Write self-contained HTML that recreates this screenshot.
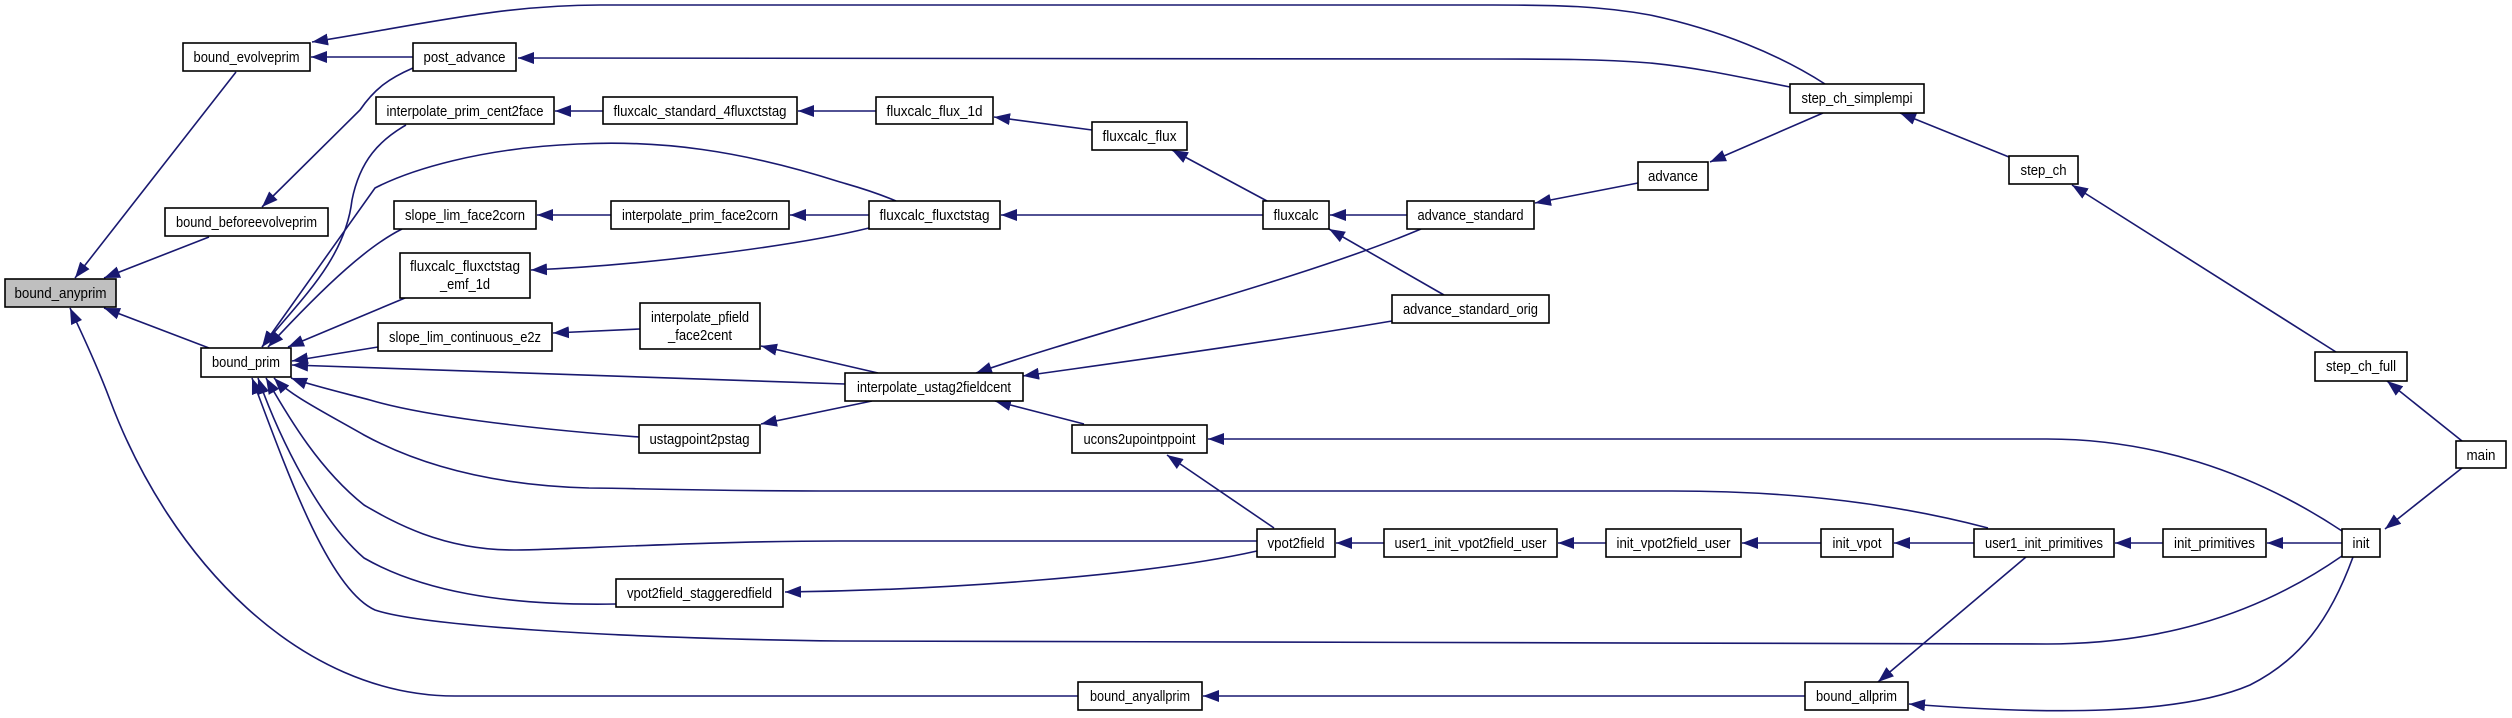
<!DOCTYPE html>
<html><head><meta charset="utf-8"><style>
html,body{margin:0;padding:0;background:#fff;}
svg{display:block;}
text{font-family:"Liberation Sans",sans-serif;font-size:15px;fill:#000;text-anchor:middle;}
.e{fill:none;stroke:#191970;stroke-width:1.6;marker-end:url(#a);}
rect{fill:#fff;stroke:#000;stroke-width:1.6;}
</style></head><body>
<svg width="2512" height="718" viewBox="0 0 2512 718" xmlns="http://www.w3.org/2000/svg">
<defs><marker id="a" markerUnits="userSpaceOnUse" markerWidth="17" markerHeight="12" refX="16" refY="6" orient="auto"><path d="M0,0 L16,6 L0,12 z" fill="#191970"/></marker></defs>
<!-- edges -->
<path class="e" d="M1825,84 C1780,55 1720,30 1650,15 C1600,6 1560,5 1493,5 L600,5 C500,5 420,25 312,42"/>
<path class="e" d="M413,57 L311,57"/>
<path class="e" d="M1790,87 C1740,77 1700,68 1650,63 C1600,59 1550,59 1493,59 L518,58"/>
<path class="e" d="M413,68 C390,78 375,88 360,110 L262,207"/>
<path class="e" d="M236,72 L75,278"/>
<path class="e" d="M209,237 L104,278"/>
<path class="e" d="M209,348 L104,308"/>
<path class="e" d="M1078,696 L455,696 C300,696 170,560 110,400 C95,360 80,330 70,308"/>
<path class="e" d="M406,125 C380,140 360,160 352,200 C345,260 300,300 262,347"/>
<path class="e" d="M896,201 C870,190 850,185 840,182 C740,150 660,140 578,144 C480,148 410,170 375,188 L262,347"/>
<path class="e" d="M402,229 C370,245 330,280 268,347"/>
<path class="e" d="M405,298 L288,347"/>
<path class="e" d="M378,347 L292,361"/>
<path class="e" d="M845,384 L292,365"/>
<path class="e" d="M639,437 C520,428 420,415 370,400 C340,392 310,385 291,378"/>
<path class="e" d="M1988,528 C1900,505 1800,491 1672,491 L840,491 C700,491 620,488 589,488 C480,485 410,460 364,435 C320,410 290,395 274,378"/>
<path class="e" d="M1257,541 L840,541 C700,541 560,550 514,550 C440,550 390,520 364,505 C320,470 290,420 266,378"/>
<path class="e" d="M616,604 C500,606 420,590 364,558 C320,520 280,440 258,378"/>
<path class="e" d="M2342,556 C2250,620 2150,644 2047,644 L840,641 C600,638 420,625 375,610 C330,590 290,480 252,378"/>
<path class="e" d="M1257,551 C1150,575 950,590 785,592"/>
<path class="e" d="M1274,528 L1167,455"/>
<path class="e" d="M1084,424 L995,401"/>
<path class="e" d="M2342,531 C2250,470 2150,439 2047,439 L1208,439"/>
<path class="e" d="M1384,543 L1336,543"/>
<path class="e" d="M1606,543 L1558,543"/>
<path class="e" d="M1821,543 L1742,543"/>
<path class="e" d="M1974,543 L1894,543"/>
<path class="e" d="M2163,543 L2115,543"/>
<path class="e" d="M2342,543 L2267,543"/>
<path class="e" d="M2462,468 L2385,529"/>
<path class="e" d="M2462,441 L2387,381"/>
<path class="e" d="M2336,352 L2072,185"/>
<path class="e" d="M2009,157 L1900,113"/>
<path class="e" d="M1823,113 L1710,162"/>
<path class="e" d="M1638,183 L1535,203"/>
<path class="e" d="M1407,215 L1330,215"/>
<path class="e" d="M1263,215 L1001,215"/>
<path class="e" d="M1267,201 L1172,150"/>
<path class="e" d="M1092,130 L994,117"/>
<path class="e" d="M876,111 L798,111"/>
<path class="e" d="M603,111 L555,111"/>
<path class="e" d="M611,215 L537,215"/>
<path class="e" d="M869,215 L790,215"/>
<path class="e" d="M869,228 C800,245 650,265 531,270"/>
<path class="e" d="M1444,295 L1329,229"/>
<path class="e" d="M1421,229 C1300,280 1100,330 976,373"/>
<path class="e" d="M1392,321 C1250,345 1100,365 1023,376"/>
<path class="e" d="M878,373 L761,346"/>
<path class="e" d="M640,329 L553,333"/>
<path class="e" d="M872,401 L761,424"/>
<path class="e" d="M1805,696 L1203,696"/>
<path class="e" d="M2026,557 L1878,682"/>
<path class="e" d="M2353,557 C2330,620 2300,660 2250,685 C2180,715 2050,715 1909,704"/>
<!-- nodes -->
<rect x="5" y="279" width="111" height="28" style="fill:#bfbfbf"/><text x="60.5" y="298" textLength="92" lengthAdjust="spacingAndGlyphs">bound_anyprim</text>
<rect x="183" y="43" width="127" height="28"/><text x="246.5" y="62" textLength="106" lengthAdjust="spacingAndGlyphs">bound_evolveprim</text>
<rect x="413" y="43" width="103" height="28"/><text x="464.5" y="62" textLength="82" lengthAdjust="spacingAndGlyphs">post_advance</text>
<rect x="376" y="97" width="178" height="27"/><text x="465" y="116" textLength="157" lengthAdjust="spacingAndGlyphs">interpolate_prim_cent2face</text>
<rect x="603" y="97" width="194" height="27"/><text x="700" y="116" textLength="173" lengthAdjust="spacingAndGlyphs">fluxcalc_standard_4fluxctstag</text>
<rect x="165" y="208" width="163" height="28"/><text x="246.5" y="227" textLength="141" lengthAdjust="spacingAndGlyphs">bound_beforeevolveprim</text>
<rect x="394" y="201" width="142" height="28"/><text x="465" y="220" textLength="120" lengthAdjust="spacingAndGlyphs">slope_lim_face2corn</text>
<rect x="611" y="201" width="178" height="28"/><text x="700" y="220" textLength="156" lengthAdjust="spacingAndGlyphs">interpolate_prim_face2corn</text>
<rect x="400" y="253" width="130" height="45"/><text x="465" y="271" textLength="110" lengthAdjust="spacingAndGlyphs">fluxcalc_fluxctstag</text><text x="465" y="289" textLength="50" lengthAdjust="spacingAndGlyphs">_emf_1d</text>
<rect x="378" y="323" width="174" height="28"/><text x="465" y="342" textLength="152" lengthAdjust="spacingAndGlyphs">slope_lim_continuous_e2z</text>
<rect x="640" y="303" width="120" height="46"/><text x="700" y="322" textLength="98" lengthAdjust="spacingAndGlyphs">interpolate_pfield</text><text x="700" y="340" textLength="64" lengthAdjust="spacingAndGlyphs">_face2cent</text>
<rect x="201" y="348" width="90" height="29"/><text x="246" y="367" textLength="68" lengthAdjust="spacingAndGlyphs">bound_prim</text>
<rect x="639" y="425" width="121" height="28"/><text x="699.5" y="444" textLength="100" lengthAdjust="spacingAndGlyphs">ustagpoint2pstag</text>
<rect x="616" y="579" width="167" height="28"/><text x="699.5" y="598" textLength="145" lengthAdjust="spacingAndGlyphs">vpot2field_staggeredfield</text>
<rect x="876" y="97" width="117" height="27"/><text x="934.5" y="116" textLength="96" lengthAdjust="spacingAndGlyphs">fluxcalc_flux_1d</text>
<rect x="1092" y="122" width="95" height="28"/><text x="1139.5" y="141" textLength="74" lengthAdjust="spacingAndGlyphs">fluxcalc_flux</text>
<rect x="869" y="201" width="131" height="28"/><text x="934.5" y="220" textLength="110" lengthAdjust="spacingAndGlyphs">fluxcalc_fluxctstag</text>
<rect x="1263" y="201" width="66" height="28"/><text x="1296" y="220" textLength="45" lengthAdjust="spacingAndGlyphs">fluxcalc</text>
<rect x="1407" y="201" width="127" height="28"/><text x="1470.5" y="220" textLength="106" lengthAdjust="spacingAndGlyphs">advance_standard</text>
<rect x="1392" y="295" width="157" height="28"/><text x="1470.5" y="314" textLength="135" lengthAdjust="spacingAndGlyphs">advance_standard_orig</text>
<rect x="1638" y="162" width="70" height="28"/><text x="1673" y="181" textLength="50" lengthAdjust="spacingAndGlyphs">advance</text>
<rect x="845" y="373" width="178" height="28"/><text x="934" y="392" textLength="154" lengthAdjust="spacingAndGlyphs">interpolate_ustag2fieldcent</text>
<rect x="1072" y="425" width="135" height="28"/><text x="1139.5" y="444" textLength="112" lengthAdjust="spacingAndGlyphs">ucons2upointppoint</text>
<rect x="1257" y="529" width="78" height="28"/><text x="1296" y="548" textLength="57" lengthAdjust="spacingAndGlyphs">vpot2field</text>
<rect x="1384" y="529" width="173" height="28"/><text x="1470.5" y="548" textLength="152" lengthAdjust="spacingAndGlyphs">user1_init_vpot2field_user</text>
<rect x="1606" y="529" width="135" height="28"/><text x="1673.5" y="548" textLength="114" lengthAdjust="spacingAndGlyphs">init_vpot2field_user</text>
<rect x="1078" y="682" width="124" height="28"/><text x="1140" y="701" textLength="100" lengthAdjust="spacingAndGlyphs">bound_anyallprim</text>
<rect x="1790" y="84" width="134" height="29"/><text x="1857" y="103" textLength="111" lengthAdjust="spacingAndGlyphs">step_ch_simplempi</text>
<rect x="2009" y="156" width="69" height="28"/><text x="2043.5" y="175" textLength="46" lengthAdjust="spacingAndGlyphs">step_ch</text>
<rect x="2315" y="352" width="92" height="29"/><text x="2361" y="371" textLength="70" lengthAdjust="spacingAndGlyphs">step_ch_full</text>
<rect x="2456" y="441" width="50" height="27"/><text x="2481" y="460" textLength="29" lengthAdjust="spacingAndGlyphs">main</text>
<rect x="2342" y="529" width="38" height="28"/><text x="2361" y="548" textLength="17" lengthAdjust="spacingAndGlyphs">init</text>
<rect x="2163" y="529" width="103" height="28"/><text x="2214.5" y="548" textLength="81" lengthAdjust="spacingAndGlyphs">init_primitives</text>
<rect x="1974" y="529" width="140" height="28"/><text x="2044" y="548" textLength="118" lengthAdjust="spacingAndGlyphs">user1_init_primitives</text>
<rect x="1821" y="529" width="72" height="28"/><text x="1857" y="548" textLength="49" lengthAdjust="spacingAndGlyphs">init_vpot</text>
<rect x="1805" y="682" width="103" height="28"/><text x="1856.5" y="701" textLength="81" lengthAdjust="spacingAndGlyphs">bound_allprim</text>
</svg>
</body></html>
